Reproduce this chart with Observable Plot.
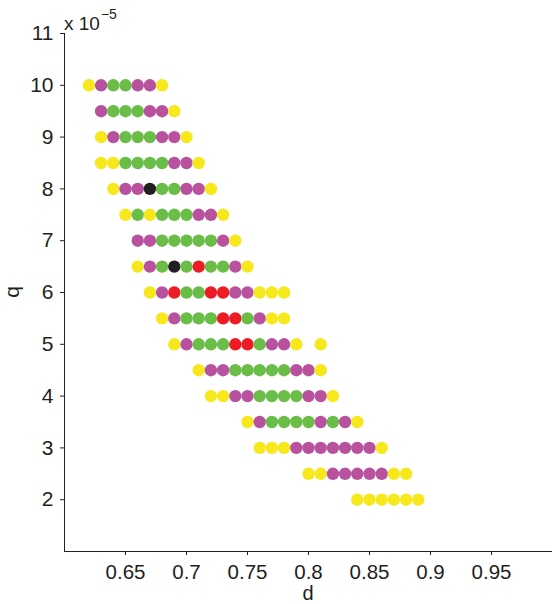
<!DOCTYPE html>
<html>
<head>
<meta charset="utf-8">
<script src="https://cdn.jsdelivr.net/npm/d3@7"></script>
<script src="https://cdn.jsdelivr.net/npm/@observablehq/plot@0.6"></script>
<style>
  html, body { margin: 0; padding: 0; background: #fff; }
  #chart { width: 552px; height: 604px; }
</style>
</head>
<body>
<div id="chart"></div>
<script>
// q rows (×10^-5), starting d of each row, and the colour code of each dot (step 0.01 in d, "." = no dot)
const qRows = [10, 9.5, 9, 8.5, 8, 7.5, 7, 6.5, 6, 5.5, 5, 4.5, 4, 3.5, 3, 2.5, 2];
const dStarts = [0.62, 0.63, 0.63, 0.63, 0.64, 0.65, 0.66, 0.66, 0.67, 0.68, 0.69, 0.71, 0.72, 0.75, 0.76, 0.80, 0.84];
const rowCodes = [
  "YMGGMMY",
  "MGGGMMY",
  "YMGGGMMY",
  "YYGGGGMMY",
  "YMMKGGMMY",
  "YGYGGGMMY",
  "MMGGGGGMY",
  "YMGKGRGGMY",
  "YMRGGRRMMYYY",
  "YMGGGRRGMYY",
  "YMGGGRRGMMY.Y",
  "YMMGGGGGMMY",
  "YYMMGGGGMMY",
  "YMGGGGMGMY",
  "YYYMMMMMMMY",
  "YYMMMMMYY",
  "YYYYYY"
];
const colorCodes = ["Y", "M", "G", "R", "K"];
const colorValues = ["#f7e81c", "#b8529e", "#6abd46", "#ed1c24", "#231f20"];
const xTicks = [0.65, 0.7, 0.75, 0.8, 0.85, 0.9, 0.95];
const yTicks = [2, 3, 4, 5, 6, 7, 8, 9, 10, 11];
const xLabel = "d";
const yLabel = "q";

const colorOf = new Map(colorCodes.map((c, i) => [c, colorValues[i]]));
const points = [];
qRows.forEach((q, r) => {
  [...rowCodes[r]].forEach((c, i) => {
    if (c === ".") return;
    points.push({d: +(dStarts[r] + i * 0.01).toFixed(2), q, color: colorOf.get(c)});
  });
});

const font = "'Liberation Sans', Arial, Helvetica, sans-serif";
const ink = "#231f20";
const plot = Plot.plot({
  width: 552,
  height: 604,
  marginLeft: 64,
  marginRight: 0,
  marginTop: 33,
  marginBottom: 53,
  style: {fontFamily: font, fontSize: "21px", color: ink, background: "#fff"},
  x: {domain: [0.6, 1.0]},
  y: {domain: [1, 11]},
  color: {type: "identity"},
  marks: [
    Plot.ruleX([0.6], {stroke: ink, strokeWidth: 1}),
    Plot.ruleY([1], {stroke: ink, strokeWidth: 1}),
    Plot.axisX({ticks: xTicks, tickFormat: d => String(d), tickSize: 4, tickPadding: 9, fontSize: 20.5,
      label: null, stroke: ink}),
    Plot.axisY({ticks: yTicks, tickFormat: d => String(d), tickSize: 4, tickPadding: 7, fontSize: 21,
      label: null, stroke: ink}),
    Plot.dot(points, {x: "d", y: "q", r: 6.2, fill: "color", stroke: null})
  ]
});
document.getElementById("chart").appendChild(plot);

const svg = d3.select(plot.tagName.toLowerCase() === "svg" ? plot : plot.querySelector("svg"));
const sx = plot.scale("x"), sy = plot.scale("y");
const x0 = sx.apply(0.6), yTop = sy.apply(11), yBot = sy.apply(1);

// exponent note "x 10^-5" at the top of the y axis
const t = svg.append("text")
  .attr("x", x0)
  .attr("y", yTop - 3)
  .attr("text-anchor", "start")
  .attr("font-family", font)
  .attr("font-size", 19)
  .attr("fill", ink);
t.append("tspan").text("x 10");
t.append("tspan").attr("dy", -11).attr("dx", 1).attr("font-size", 14).text("\u22125");

// axis titles
svg.append("text")
  .attr("x", (sx.apply(0.6) + sx.apply(1.0)) / 2)
  .attr("y", 600)
  .attr("text-anchor", "middle")
  .attr("font-family", font)
  .attr("font-size", 20)
  .attr("fill", ink)
  .text(xLabel);
svg.append("text")
  .attr("transform", `translate(19,${(yTop + yBot) / 2}) rotate(-90)`)
  .attr("text-anchor", "middle")
  .attr("font-family", font)
  .attr("font-size", 21)
  .attr("fill", ink)
  .text(yLabel);
</script>
</body>
</html>
